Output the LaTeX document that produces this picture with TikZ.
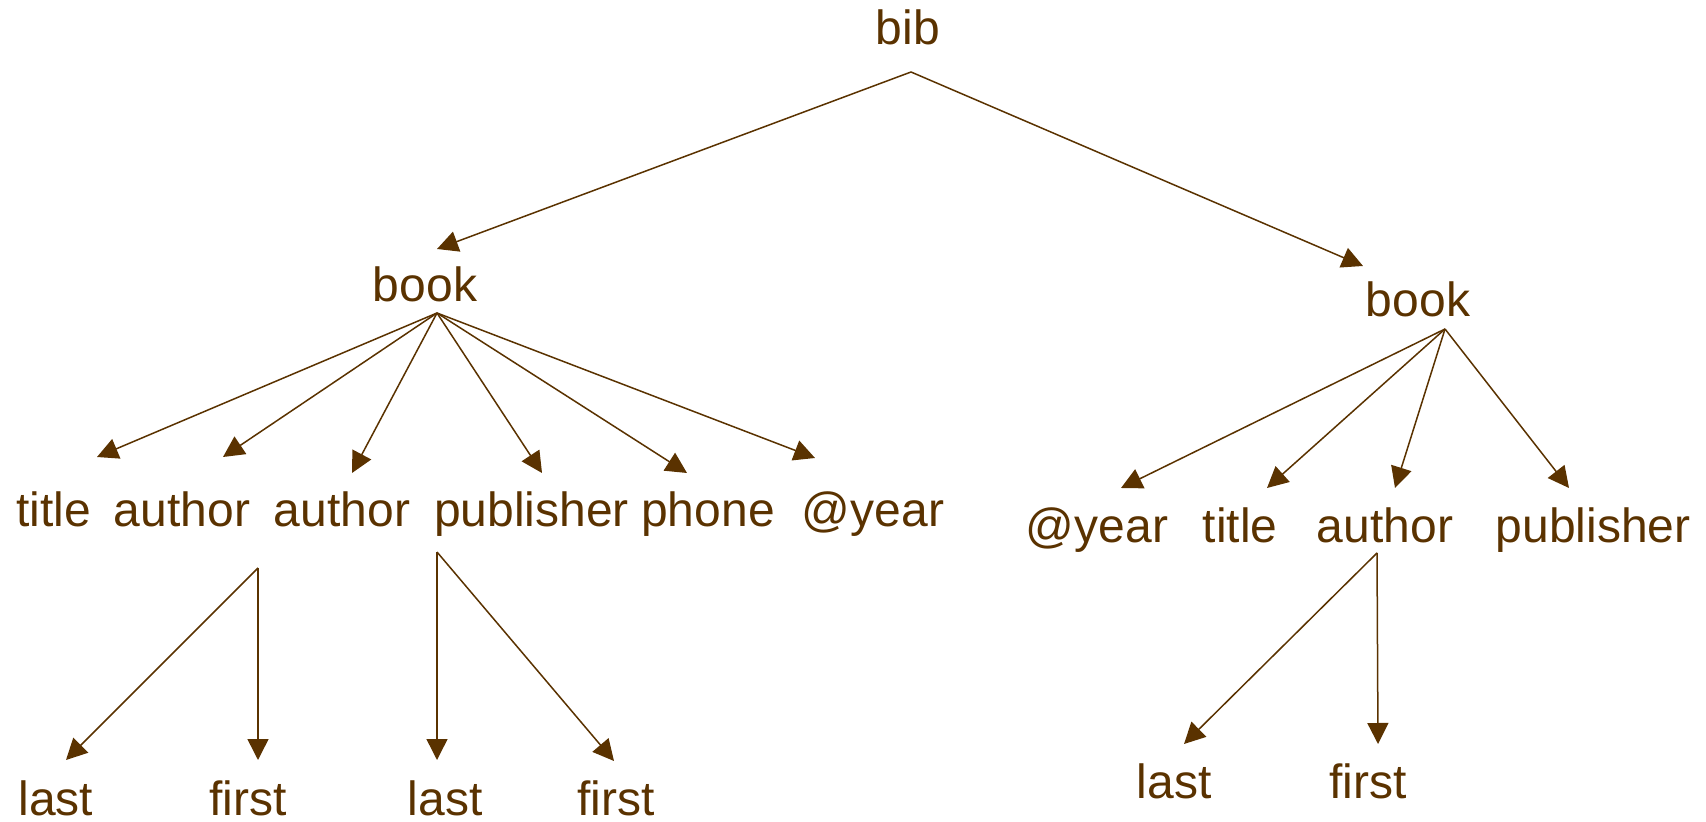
\documentclass[tikz,border=0pt]{standalone}
\usepackage{fontspec}
\setmainfont{Liberation Sans}
\usetikzlibrary{arrows.meta}
\definecolor{bark}{RGB}{90,50,0}
\begin{document}
\begin{tikzpicture}[x=0.5pt, y=-0.5pt,
  lbl/.style={anchor=base, inner sep=0pt, text=bark, font=\fontsize{24}{28}\selectfont},
  link/.style={draw=bark, line width=0.75pt, -{Triangle[length=10.5pt,width=10.5pt]}}]
\useasboundingbox (0,0) rectangle (1706,822);

% element labels
\node[lbl] (bib)   at (908,45)   {bib};
\node[lbl] (bookA) at (425,302)  {book};
\node[lbl] (bookB) at (1418,317) {book};

\node[lbl] (titleA)  at (54,527)    {title};
\node[lbl] (authA)   at (182,527)   {author};
\node[lbl] (authB)   at (342,527)   {author};
\node[lbl] (pubA)    at (531.5,527) {publisher};
\node[lbl] (phoneA)  at (708,527)   {phone};
\node[lbl] (yearA)   at (873,527)   {@year};

\node[lbl] (yearB)   at (1097,543)  {@year};
\node[lbl] (titleB)  at (1240,543)  {title};
\node[lbl] (authC)   at (1385,543)  {author};
\node[lbl] (pubB)    at (1593,543)  {publisher};

\node[lbl] (lastA)   at (56,815)    {last};
\node[lbl] (firstA)  at (248,815)   {first};
\node[lbl] (lastB)   at (445,815)   {last};
\node[lbl] (firstB)  at (616,815)   {first};
\node[lbl] (lastC)   at (1174,798)  {last};
\node[lbl] (firstC)  at (1368,798)  {first};

% fan origins below the parent labels
\coordinate (bibO)   at (911,72);
\coordinate (bookAO) at (437,313);
\coordinate (bookBO) at (1445,329);
\coordinate (authBO) at (258,568);
\coordinate (pubAO)  at (437,552);
\coordinate (authCO) at (1377,553);

% arrow tips above the child labels
\coordinate (bookAI)  at (437,249);
\coordinate (bookBI)  at (1363,266);
\coordinate (titleAI) at (97,457);
\coordinate (authAI)  at (223,457);
\coordinate (authBI)  at (352,473);
\coordinate (pubAI)   at (542,473);
\coordinate (phoneAI) at (687,473);
\coordinate (yearAI)  at (815,458);
\coordinate (yearBI)  at (1121,488);
\coordinate (titleBI) at (1267,488);
\coordinate (authCI)  at (1395,488);
\coordinate (pubBI)   at (1569,488);
\coordinate (lastAI)  at (66,760);
\coordinate (firstAI) at (258,760);
\coordinate (lastBI)  at (437,760);
\coordinate (firstBI) at (614,761);
\coordinate (lastCI)  at (1184,744);
\coordinate (firstCI) at (1378,744);

% edges of the tree
\draw[link] (bibO) -- (bookAI);
\draw[link] (bibO) -- (bookBI);

\foreach \t in {titleAI,authAI,authBI,pubAI,phoneAI,yearAI}
  \draw[link] (bookAO) -- (\t);
\foreach \t in {yearBI,titleBI,authCI,pubBI}
  \draw[link] (bookBO) -- (\t);

\draw[link] (authBO) -- (lastAI);
\draw[link] (authBO) -- (firstAI);
\draw[link] (pubAO) -- (lastBI);
\draw[link] (pubAO) -- (firstBI);
\draw[link] (authCO) -- (lastCI);
\draw[link] (authCO) -- (firstCI);
\end{tikzpicture}
\end{document}
